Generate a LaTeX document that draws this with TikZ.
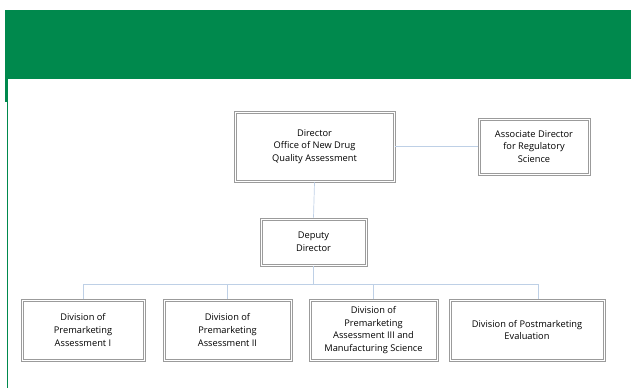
\documentclass[tikz,border=0pt]{standalone}
\usepackage{fontspec}
\setmainfont{Open Sans}
\definecolor{fdagreen}{RGB}{0,137,77}
\definecolor{connblue}{RGB}{190,208,230}
\definecolor{boxgray}{RGB}{155,155,155}
\begin{document}
\begin{tikzpicture}[x=1bp,y=-1bp,
  orgbox/.style={draw=boxgray, line width=0.55bp,
    align=center, font=\fontsize{9.3}{12.8}\selectfont, inner sep=0pt},
  innerframe/.style={draw=boxgray, line width=0.55bp},
  conn/.style={draw=connblue, line width=0.7bp}]
\useasboundingbox (0,0) rectangle (631,390);
% header band
\fill[fdagreen] (5,10) rectangle (631,79);
\fill[fdagreen] (5,79) rectangle (7,102);
\draw[fdagreen, line width=0.9bp] (7.3,79) -- (7.3,388);
% boxes
\node[orgbox, minimum width=161bp, minimum height=71bp] (dir) at (314.5,146.5) {Director\\Office of New Drug\\Quality Assessment};
\node[orgbox, minimum width=112bp, minimum height=57bp] (assoc) at (534,146.5) {Associate Director\\for Regulatory\\Science};
\node[orgbox, minimum width=107bp, minimum height=48bp] (dep) at (313.5,242) {Deputy\\Director};
\node[orgbox, minimum width=124bp, minimum height=62bp] (d1) at (83,330) {Division of\\Premarketing\\Assessment I};
\node[orgbox, minimum width=129bp, minimum height=62bp] (d2) at (227.5,330) {Division of\\Premarketing\\Assessment II};
\node[orgbox, minimum width=129bp, minimum height=62bp] (d3) at (373.5,330) {Division of\\Premarketing\\Assessment III and\\Manufacturing Science};
\node[orgbox, minimum width=156bp, minimum height=62bp] (d4) at (527,330) {Division of Postmarketing\\Evaluation};
\foreach \n in {dir,assoc,dep,d1,d2,d3,d4}
  \draw[innerframe] ([xshift=2.2bp,yshift=-2.2bp]\n.north west) rectangle ([xshift=-2.2bp,yshift=2.2bp]\n.south east);
% connectors
\coordinate (busL) at (83,284);
\coordinate (busR) at (538,284);
\coordinate (d4top) at (538,299);
\draw[conn] (dir.east) -- (assoc.west);
\draw[conn] (dir.south) -- (dep.north);
\draw[conn] (dep.south) -- (dep.south |- busL);
\draw[conn] (d1.north) -- (busL) -- (busR) -- (d4top);
\draw[conn] (d2.north) -- (d2.north |- busL);
\draw[conn] (d3.north) -- (d3.north |- busL);
\end{tikzpicture}
\end{document}
